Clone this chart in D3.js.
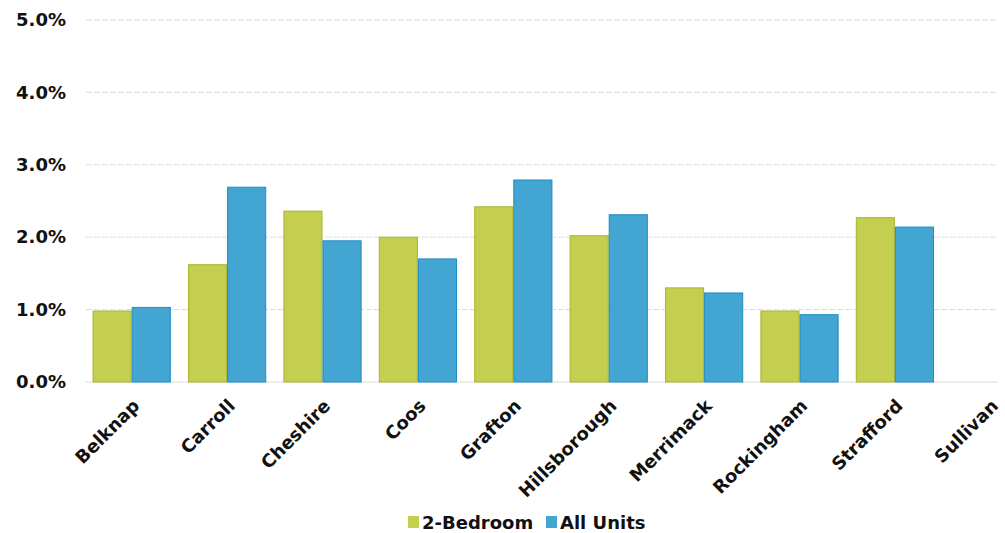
<!DOCTYPE html>
<html>
<head>
<meta charset="utf-8">
<script src="https://cdn.jsdelivr.net/npm/d3@7"></script>
<style>
  html, body { margin: 0; padding: 0; background: #fff; }
  svg text { font-family: "DejaVu Sans", Verdana, sans-serif; font-weight: bold; fill: #111; }
</style>
</head>
<body>
<svg id="chart" width="1005" height="533"></svg>
<script>
// ─── Data ────────────────────────────────────────────────────────
const counties = ['Belknap','Carroll','Cheshire','Coos','Grafton','Hillsborough','Merrimack','Rockingham','Strafford','Sullivan'];
const twoBedroom = [0.98, 1.62, 2.36, 2.00, 2.42, 2.02, 1.30, 0.98, 2.27, null];
const allUnits   = [1.03, 2.69, 1.95, 1.70, 2.79, 2.31, 1.23, 0.93, 2.14, null];
const yTicks = [0, 1, 2, 3, 4, 5];
const seriesNames = ['2-Bedroom', 'All Units'];
const COLORS = ['#c4ce4f', '#42a5d2'];
const STROKES = ['#a9b52e', '#1f8cc4'];

const svg = d3.select('#chart');
const margin = { top: 20, left: 84, bottom: 151 };
const plotRight = 998;
const h = 533;
const ih = h - margin.top - margin.bottom;

// category band extends past the right edge (reference is cropped)
const x = d3.scaleBand().domain(counties).range([margin.left, margin.left + 95.4 * counties.length]).paddingInner(0.18).paddingOuter(0.09);
const x1 = d3.scaleBand().domain(seriesNames).range([0, x.bandwidth()]);
const y = d3.scaleLinear().domain([0, 5]).range([margin.top + ih, margin.top]);

// Gridlines
svg.append('g').selectAll('line').data(yTicks).join('line')
  .attr('x1', 86).attr('x2', plotRight)
  .attr('y1', d => y(d)).attr('y2', d => y(d))
  .attr('stroke', '#dcdcdc')
  .attr('stroke-width', 1)
  .attr('stroke-dasharray', d => d === 0 ? null : '6,2');

// Y axis labels
svg.append('g').attr('transform', 'translate(66,0)')
  .call(d3.axisLeft(y).tickValues(yTicks).tickSize(0).tickPadding(0).tickFormat(d => d.toFixed(1) + '%'))
  .call(g => g.select('.domain').remove())
  .selectAll('text')
  .attr('font-size', 18)
  .attr('font-family', '"DejaVu Sans", Verdana, sans-serif')
  .attr('font-weight', 'bold')
  .attr('fill', '#111');

// Bars
const rows = counties.map((c, i) => ({ c, vals: [twoBedroom[i], allUnits[i]] }));
const groups = svg.append('g').selectAll('g').data(rows).join('g')
  .attr('transform', d => `translate(${x(d.c)},0)`);
groups.selectAll('rect')
  .data(d => d.vals.map((v, k) => ({ v, k })).filter(d => d.v != null))
  .join('rect')
  .attr('x', d => x1(seriesNames[d.k]) + 0.5)
  .attr('width', x1.bandwidth() - 1)
  .attr('y', d => y(d.v))
  .attr('height', d => y(0) - y(d.v))
  .attr('fill', d => COLORS[d.k])
  .attr('stroke', d => STROKES[d.k])
  .attr('stroke-width', 1);

// X axis labels (rotated)
svg.append('g').selectAll('text').data(counties).join('text')
  .attr('transform', d => `translate(${x(d) + x.bandwidth() / 2 + 9},${y(0) + 25}) rotate(-45)`)
  .attr('text-anchor', 'end')
  .attr('font-size', 18)
  .text(d => d);

// Legend
const legend = svg.append('g').attr('transform', 'translate(408,529)');
const items = [{ name: seriesNames[0], x: 0 }, { name: seriesNames[1], x: 138 }];
items.forEach((it, k) => {
  legend.append('rect')
    .attr('x', it.x).attr('y', -13).attr('width', 11).attr('height', 12)
    .attr('fill', COLORS[k]);
  legend.append('text')
    .attr('x', it.x + 14).attr('y', 0)
    .attr('font-size', 18)
    .text(it.name);
});
</script>
</body>
</html>
